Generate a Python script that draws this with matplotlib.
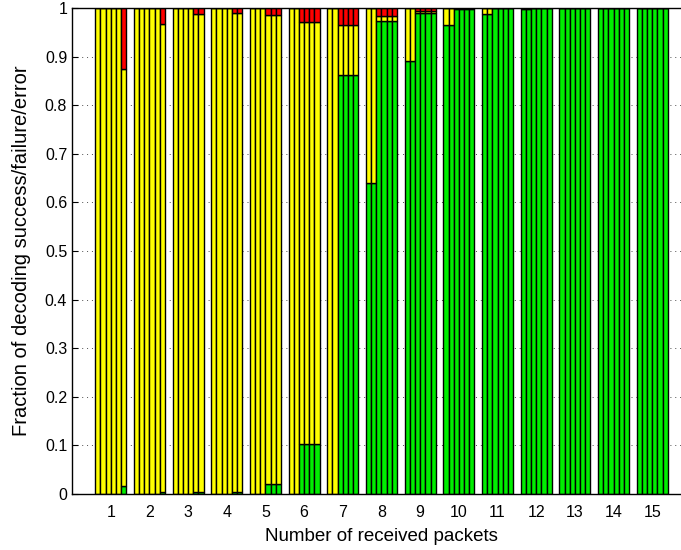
import matplotlib.pyplot as plt
import numpy as np

plt.rcParams['font.family'] = ['Liberation Sans', 'DejaVu Sans']

# number of received packets (groups), 6 bars per group
packets = list(range(1, 16))

# fraction of decoding success (green, bottom)
success = [
    [0, 0, 0, 0, 0, 0.017],
    [0, 0, 0, 0, 0, 0.005],
    [0, 0, 0, 0, 0.004, 0.004],
    [0, 0, 0, 0, 0.005, 0.005],
    [0, 0, 0, 0.02, 0.02, 0.02],
    [0, 0, 0.103, 0.103, 0.103, 0.103],
    [0, 0, 0.862, 0.862, 0.862, 0.862],
    [0.64, 0.64, 0.974, 0.974, 0.974, 0.974],
    [0.89, 0.89, 0.99, 0.99, 0.99, 0.99],
    [0.965, 0.965, 0.997, 0.997, 0.997, 0.997],
    [0.987, 0.987, 1, 1, 1, 1],
    [0.997, 0.997, 1, 1, 1, 1],
    [1, 1, 1, 1, 1, 1],
    [1, 1, 1, 1, 1, 1],
    [1, 1, 1, 1, 1, 1],
]

# fraction of decoding failure (yellow, middle)
failure = [
    [1, 1, 1, 1, 1, 0.858],
    [1, 1, 1, 1, 1, 0.962],
    [1, 1, 1, 1, 0.983, 0.983],
    [1, 1, 1, 1, 0.984, 0.984],
    [1, 1, 1, 0.966, 0.966, 0.966],
    [1, 1, 0.869, 0.869, 0.869, 0.869],
    [1, 1, 0.102, 0.102, 0.102, 0.102],
    [0.36, 0.36, 0.01, 0.01, 0.01, 0.01],
    [0.11, 0.11, 0.003, 0.003, 0.003, 0.003],
    [0.035, 0.035, 0.003, 0.003, 0.003, 0.003],
    [0.013, 0.013, 0, 0, 0, 0],
    [0.003, 0.003, 0, 0, 0, 0],
    [0, 0, 0, 0, 0, 0],
    [0, 0, 0, 0, 0, 0],
    [0, 0, 0, 0, 0, 0],
]

# fraction of decoding error (red, top)
error = [
    [0, 0, 0, 0, 0, 0.125],
    [0, 0, 0, 0, 0, 0.033],
    [0, 0, 0, 0, 0.013, 0.013],
    [0, 0, 0, 0, 0.011, 0.011],
    [0, 0, 0, 0.014, 0.014, 0.014],
    [0, 0, 0.028, 0.028, 0.028, 0.028],
    [0, 0, 0.036, 0.036, 0.036, 0.036],
    [0, 0, 0.016, 0.016, 0.016, 0.016],
    [0, 0, 0.007, 0.007, 0.007, 0.007],
    [0, 0, 0, 0, 0, 0],
    [0, 0, 0, 0, 0, 0],
    [0, 0, 0, 0, 0, 0],
    [0, 0, 0, 0, 0, 0],
    [0, 0, 0, 0, 0, 0],
    [0, 0, 0, 0, 0, 0],
]

s = np.array(success)
f = np.array(failure)
e = np.array(error)
x = np.array(packets)
nbars = s.shape[1]
width = 0.8 / nbars

fig = plt.figure(figsize=(6.81, 5.5), dpi=100)
ax = fig.add_axes([72 / 681, 56 / 550, 619 / 681, 486 / 550])

# dotted grid like matlab, behind bars
ax.set_axisbelow(True)
ax.yaxis.grid(True, linestyle=(0, (1, 4)), color='0.3', linewidth=0.7)

for j in range(nbars):
    xs = x - 0.4 + width * (j + 0.5)
    ax.bar(xs, s[:, j], width, color='#00ee00', edgecolor='black', linewidth=1.0)
    ax.bar(xs, f[:, j], width, bottom=s[:, j], color='#ffff00', edgecolor='black', linewidth=1.0)
    ax.bar(xs, e[:, j], width, bottom=s[:, j] + f[:, j], color='#ff0000', edgecolor='black', linewidth=1.0)

ax.set_xlim(0, 16)
ax.set_ylim(0, 1)
ax.set_xticks(packets)
ax.set_yticks(np.arange(0, 1.01, 0.1))
ax.set_yticklabels(['0', '0.1', '0.2', '0.3', '0.4', '0.5', '0.6', '0.7', '0.8', '0.9', '1'])
ax.tick_params(direction='in', top=True, right=True, labelsize=11.5, length=4)
ax.tick_params(axis='x', pad=8)
for sp in ax.spines.values():
    sp.set_linewidth(1.0)

ax.set_xlabel('Number of received packets', fontsize=13.5, labelpad=6)
ax.set_ylabel('Fraction of decoding success/failure/error', fontsize=14.5, labelpad=10)

fig.savefig('out.png', dpi=100)
